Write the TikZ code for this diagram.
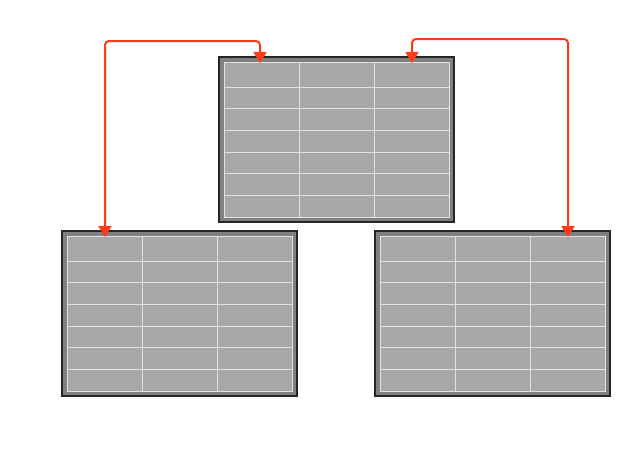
\documentclass[tikz,border=0pt]{standalone}
\usetikzlibrary{arrows.meta,calc}
\definecolor{outerfill}{HTML}{808080}
\definecolor{cellfill}{HTML}{A8A8A8}
\definecolor{gridline}{HTML}{E2E2E2}
\definecolor{connred}{HTML}{FF3A14}
\tikzset{
  tbox/.style={draw=black!85, line width=1.4pt, fill=outerfill, minimum width=235pt, minimum height=165pt, inner sep=0pt, outer sep=0pt},
  tin/.style={fill=cellfill, draw=gridline, line width=0.9pt, minimum width=225pt, minimum height=155pt, inner sep=0pt, outer sep=0pt},
  gline/.style={draw=gridline, line width=0.9pt},
  conn/.style={draw=connred, line width=2pt, rounded corners=4pt, {Triangle[width=13pt,length=11pt]}-{Triangle[width=13pt,length=11pt]}}
}
\newcommand{\mygrid}[3]{%
  \node[tbox] (#1) at (#2,#3) {};
  \node[tin] (#1in) at (#2,#3) {};
  \foreach \k in {1,2} \draw[gline] ($(#1in.north west)+(75*\k,0)$) -- ($(#1in.south west)+(75*\k,0)$);
  \draw[gline] ($(#1in.north west)+(0,25)$) -- ($(#1in.north east)+(0,25)$);
  \foreach \k in {1,...,5} \draw[gline] ($(#1in.north west)+(0,25+21.67*\k)$) -- ($(#1in.north east)+(0,25+21.67*\k)$);
}
\begin{document}
\begin{tikzpicture}[x=1pt,y=-1pt]
\useasboundingbox (0,0) rectangle (641,456);
\mygrid{top}{336.5}{139.5}
\mygrid{bl}{179.5}{313.5}
\mygrid{br}{492.5}{313.5}
\draw[conn] ([xshift=36pt,yshift=-1pt]topin.north west) -- ++(0,-22) -| ([xshift=38pt,yshift=-1pt]blin.north west);
\draw[conn] ([xshift=-37pt,yshift=-1pt]topin.north east) -- ++(0,-24) -| ([xshift=-37pt,yshift=-1pt]brin.north east);
\end{tikzpicture}
\end{document}
